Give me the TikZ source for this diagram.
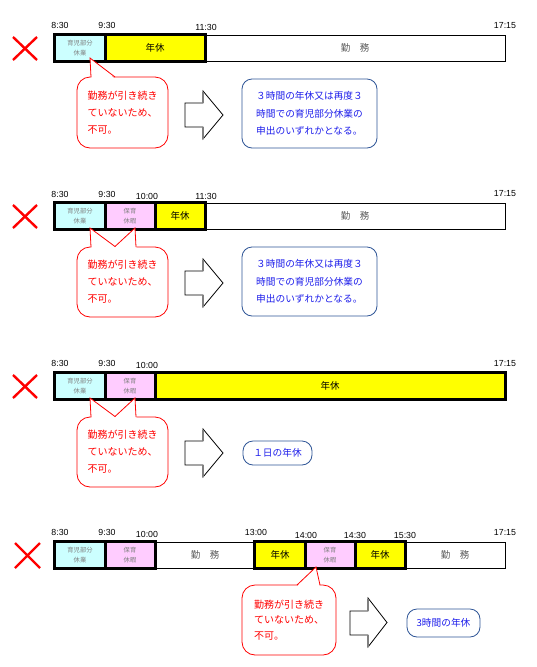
\documentclass[tikz,border=0pt]{standalone}
\usepackage{fontspec}
\setmainfont{Noto Sans CJK JP}
\newfontfamily\latf{Liberation Sans}
\definecolor{cy}{HTML}{CCFFFF}
\definecolor{pk}{HTML}{FFCCFF}
\definecolor{yl}{HTML}{FFFF00}
\definecolor{bluebd}{HTML}{2F5597}
\definecolor{bluetx}{RGB}{30,30,235}
\definecolor{graytx}{HTML}{7F7F7F}
\definecolor{worktx}{HTML}{595959}
\begin{document}
\begin{tikzpicture}[x=1pt,y=-1pt,
  tm/.style={font=\latf\fontsize{8.8}{10}\selectfont, inner sep=0},
  seg/.style={draw=black, line width=0.8pt, inner sep=0, minimum height=26pt},
  small/.style={font=\fontsize{6.3}{10.5}\selectfont, text=graytx, align=center},
  big/.style={font=\fontsize{9.5}{11}\selectfont},
  work/.style={font=\fontsize{9.5}{11}\selectfont, text=worktx},
  frame/.style={draw=black, line width=2.6pt},
  redx/.style={draw=red, line width=2.4pt},
  callout/.style={draw=red, line width=0.8pt, fill=white, rounded corners=13pt, text=red,
     align=left, font=\fontsize{10}{17}\selectfont, inner sep=0},
  ptr/.style={draw=red, line width=0.8pt},
  blockarrow/.style={draw=black, fill=white, line width=0.8pt},
  bluebox/.style={draw=bluebd, line width=0.8pt, fill=white, rounded corners=10pt, text=bluetx,
     align=left, font=\fontsize{9.7}{17.5}\selectfont, inner sep=0}
]
\useasboundingbox (0,0) rectangle (537,667);
\fill[white] (0,0) rectangle (537,667);

% ================= Row 1 =================
\node[tm] (r1t1) at (60,25) {8:30};
\node[tm] (r1t2) at (107,25) {9:30};
\node[tm] (r1t3) at (206,27) {11:30};
\node[tm] (r1t4) at (505,26) {17:15};
\node[seg, fill=cy, minimum width=50pt] (r1a) at (80,48) {};
\node[small] at (r1a) {育児部分\\休業};
\node[seg, fill=yl, minimum width=100pt, big] (r1b) at (155,48) {年休};
\node[seg, fill=white, minimum width=300pt, work] (r1w) at (355,48) {勤　務};
\draw[frame] (r1a.north west) rectangle (r1b.south east);
\draw[frame] (r1a.north east) -- (r1a.south east);
\draw[redx] (13,37) -- (37,60) (13,60) -- (37,37);
\node[callout, minimum width=91pt, minimum height=71pt] (r1c) at (122.5,112.5) {勤務が引き続き\\ていないため、\\不可。};
\coordinate (r1p1) at (90,58);
\fill[white] (91.5,78) -- (r1p1) -- (114,78) -- cycle;
\draw[ptr] (91,77) -- (r1p1) -- (115,77);
\draw[blockarrow] (185,103) -- (203,103) -- (203,91) -- (223,115) -- (203,139) -- (203,127) -- (185,127) -- cycle;
\draw[gray, line width=1.2pt] (203,91.5) -- (203,103) (203,127) -- (203,138.5);
\node[bluebox, minimum width=135pt, minimum height=69pt] (r1d) at (309.5,113.5) {３時間の年休又は再度３\\時間での育児部分休業の\\申出のいずれかとなる。};

% ================= Row 2 =================
\node[tm] (r2t1) at (60,194) {8:30};
\node[tm] (r2t2) at (107,194) {9:30};
\node[tm] (r2t3) at (147,196) {10:00};
\node[tm] (r2t4) at (206,196) {11:30};
\node[tm] (r2t5) at (505,194) {17:15};
\node[seg, fill=cy, minimum width=50pt] (r2a) at (80,216) {};
\node[small] at (r2a) {育児部分\\休業};
\node[seg, fill=pk, minimum width=50pt] (r2b) at (130,216) {};
\node[small] at (r2b) {保育\\休暇};
\node[seg, fill=yl, minimum width=50pt, big] (r2c) at (180,216) {年休};
\node[seg, fill=white, minimum width=300pt, work] (r2w) at (355,216) {勤　務};
\draw[frame] (r2a.north west) rectangle (r2c.south east);
\draw[frame] (r2a.north east) -- (r2a.south east) (r2b.north east) -- (r2b.south east);
\draw[redx] (13,205) -- (37,228) (13,228) -- (37,205);
\node[callout, minimum width=91pt, minimum height=70pt] (r2c2) at (122.5,282) {勤務が引き続き\\ていないため、\\不可。};
\coordinate (r2p1) at (90,228);
\coordinate (r2p2) at (135,228);
\fill[white] (91.5,248) -- (r2p1) -- (115,247) -- (r2p2) -- (136.5,248) -- cycle;
\draw[ptr] (91,247) -- (r2p1) -- (115,246.5) -- (r2p2) -- (136,247);
\draw[blockarrow] (185,271) -- (203,271) -- (203,259) -- (223,283) -- (203,307) -- (203,295) -- (185,295) -- cycle;
\draw[gray, line width=1.2pt] (203,259.5) -- (203,271) (203,295) -- (203,306.5);
\node[bluebox, minimum width=135pt, minimum height=69pt] (r2d) at (309.5,281.5) {３時間の年休又は再度３\\時間での育児部分休業の\\申出のいずれかとなる。};

% ================= Row 3 =================
\node[tm] (r3t1) at (60,363) {8:30};
\node[tm] (r3t2) at (107,363) {9:30};
\node[tm] (r3t3) at (147,365) {10:00};
\node[tm] (r3t4) at (505,364) {17:15};
\node[seg, fill=cy, minimum width=50pt] (r3a) at (80,386) {};
\node[small] at (r3a) {育児部分\\休業};
\node[seg, fill=pk, minimum width=50pt] (r3b) at (130,386) {};
\node[small] at (r3b) {保育\\休暇};
\node[seg, fill=yl, minimum width=350pt, big] (r3c) at (330,386) {年休};
\draw[frame] (r3a.north west) rectangle (r3c.south east);
\draw[frame] (r3a.north east) -- (r3a.south east) (r3b.north east) -- (r3b.south east);
\draw[redx] (13,375) -- (37,398) (13,398) -- (37,375);
\node[callout, minimum width=91pt, minimum height=70pt] (r3c2) at (122.5,452) {勤務が引き続き\\ていないため、\\不可。};
\coordinate (r3p1) at (90,398);
\coordinate (r3p2) at (135,398);
\fill[white] (91.5,418) -- (r3p1) -- (115,417) -- (r3p2) -- (136.5,418) -- cycle;
\draw[ptr] (91,417) -- (r3p1) -- (115,416.5) -- (r3p2) -- (136,417);
\draw[blockarrow] (185,441) -- (203,441) -- (203,429) -- (223,453) -- (203,477) -- (203,465) -- (185,465) -- cycle;
\draw[gray, line width=1.2pt] (203,429.5) -- (203,441) (203,465) -- (203,476.5);
\node[bluebox, minimum width=69pt, minimum height=24pt, font=\fontsize{9.7}{11}\selectfont] (r3d) at (277.5,453) {１日の年休};

% ================= Row 4 =================
\node[tm] (r4t1) at (60,532) {8:30};
\node[tm] (r4t2) at (107,532) {9:30};
\node[tm] (r4t3) at (147,534) {10:00};
\node[tm] (r4t4) at (256,532) {13:00};
\node[tm] (r4t5) at (306,535) {14:00};
\node[tm] (r4t6) at (355,535) {14:30};
\node[tm] (r4t7) at (405,535) {15:30};
\node[tm] (r4t8) at (505,533) {17:15};
\node[seg, fill=cy, minimum width=50pt] (r4a) at (80,555) {};
\node[small] at (r4a) {育児部分\\休業};
\node[seg, fill=pk, minimum width=50pt] (r4b) at (130,555) {};
\node[small] at (r4b) {保育\\休暇};
\node[seg, fill=white, minimum width=100pt, work] (r4w1) at (205,555) {勤　務};
\node[seg, fill=yl, minimum width=50pt, big] (r4c) at (280,555) {年休};
\node[seg, fill=pk, minimum width=50pt] (r4d) at (330,555) {};
\node[small] at (r4d) {保育\\休暇};
\node[seg, fill=yl, minimum width=50pt, big] (r4e) at (380,555) {年休};
\node[seg, fill=white, minimum width=100pt, work] (r4w2) at (455,555) {勤　務};
\draw[frame] (r4a.north west) rectangle (r4b.south east);
\draw[frame] (r4a.north east) -- (r4a.south east);
\draw[frame] (r4c.north west) rectangle (r4e.south east);
\draw[frame] (r4c.north east) -- (r4c.south east) (r4d.north east) -- (r4d.south east);
\draw[redx] (15,543) -- (40,568) (15,568) -- (40,543);
\node[callout, minimum width=94pt, minimum height=70pt, font=\fontsize{10}{15.5}\selectfont] (r4c2) at (289,620) {勤務が引き続き\\ていないため、\\不可。};
\coordinate (r4p1) at (316,567);
\fill[white] (297.5,586) -- (r4p1) -- (319.7,586) -- cycle;
\draw[ptr] (297,585) -- (r4p1) -- (320,585);
\draw[blockarrow] (350,611) -- (368,611) -- (368,598) -- (387,622.5) -- (368,647) -- (368,635) -- (350,635) -- cycle;
\draw[gray, line width=1.2pt] (368,598.5) -- (368,611) (368,635) -- (368,646.5);
\node[bluebox, minimum width=73pt, minimum height=28pt, font=\fontsize{9.7}{11}\selectfont] (r4f) at (443.5,623) {3時間の年休};
\end{tikzpicture}
\end{document}
